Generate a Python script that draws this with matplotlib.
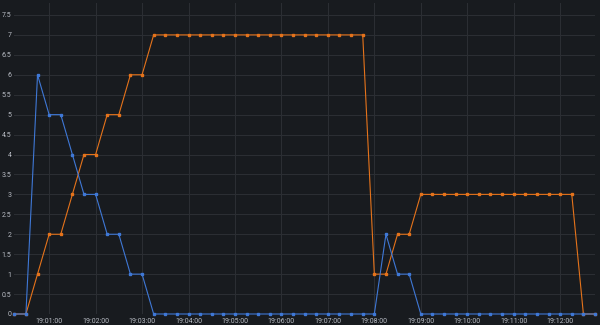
#======================
# imports
#======================
import datetime as dt
import matplotlib
matplotlib.use("Agg")
import matplotlib.pyplot as plt
import matplotlib.dates as mdates
from matplotlib.ticker import MultipleLocator, FuncFormatter

#----------------------------------------------------------------------- data
# one sample every 15 seconds starting 19:00:15
start_time = dt.datetime(2023, 1, 1, 19, 0, 15)
step_seconds = 15

series_blue = [0, 0, 6, 5, 5, 4, 3, 3, 2, 2, 1, 1,
               0, 0, 0, 0, 0, 0, 0, 0, 0, 0, 0, 0, 0, 0, 0, 0, 0, 0, 0, 0,
               2, 1, 1,
               0, 0, 0, 0, 0, 0, 0, 0, 0, 0, 0, 0, 0, 0, 0, 0]

series_orange = [0, 0, 1, 2, 2, 3, 4, 4, 5, 5, 6, 6,
                 7, 7, 7, 7, 7, 7, 7, 7, 7, 7, 7, 7, 7, 7, 7, 7, 7, 7, 7,
                 1, 1, 2, 2,
                 3, 3, 3, 3, 3, 3, 3, 3, 3, 3, 3, 3, 3, 3,
                 0, 0]

times = [start_time + dt.timedelta(seconds=step_seconds * i) for i in range(len(series_blue))]

#----------------------------------------------------------------------- style
bg_color = '#181b1f'
grid_color = '#2c2f34'
text_color = '#b8bcc4'
blue = '#3f78d6'
orange = '#e5731b'

plt.rcParams['font.family'] = ['Roboto', 'DejaVu Sans']

fig = plt.figure(figsize=(6, 3.25), dpi=100, facecolor=bg_color)
ax = fig.add_axes([14.3 / 600, 11 / 325, (595 - 14.3) / 600, 1 - 14 / 325])
ax.set_facecolor(bg_color)

#----------------------------------------------------------------------- plot
ax.plot(times, series_orange, '-s', color=orange, lw=0.8, ms=1.7, clip_on=False, zorder=3)
ax.plot(times, series_blue, '-s', color=blue, lw=0.8, ms=1.7, clip_on=False, zorder=4)

ax.set_xlim(times[0], times[-1])
ax.set_ylim(0, 7.8)

ax.xaxis.set_major_locator(mdates.MinuteLocator())
ax.xaxis.set_major_formatter(mdates.DateFormatter('%H:%M:%S'))
ax.yaxis.set_major_locator(MultipleLocator(0.5))
ax.yaxis.set_major_formatter(FuncFormatter(lambda v, p: '%g' % v))

ax.grid(True, color=grid_color, lw=0.7)
ax.set_axisbelow(True)
for s in ax.spines.values():
    s.set_visible(False)
ax.tick_params(axis='both', length=0, colors=text_color, labelsize=5)
ax.tick_params(axis='x', pad=3)
ax.tick_params(axis='y', pad=2)

fig.savefig('out.png', dpi=100, facecolor=bg_color)
